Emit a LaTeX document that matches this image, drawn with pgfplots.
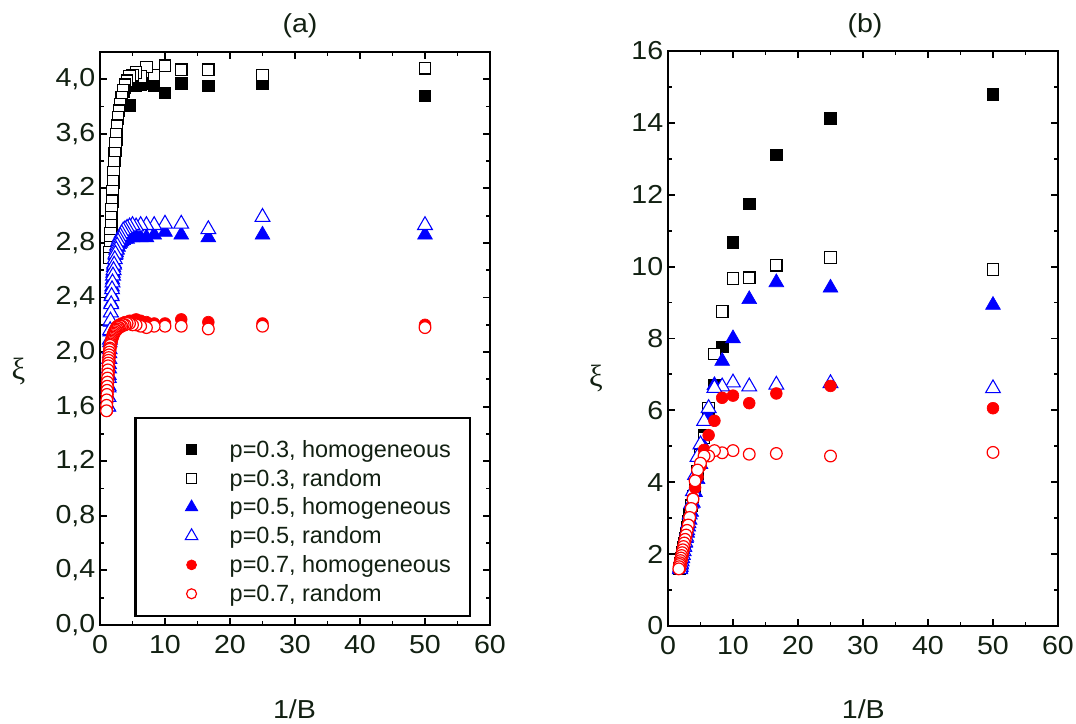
\documentclass[border=0pt]{standalone}
\usepackage{pgfplots}
\pgfplotsset{compat=1.18}
\usepackage{fontspec}
\setmainfont{Liberation Sans}
\newfontfamily\widesans{Liberation Sans}[FakeStretch=1.1]
\newfontfamily\xifont{Liberation Serif}
\newcommand\tickfont{\widesans\fontsize{19.5}{22}\selectfont}
\newcommand\legfont{\fontsize{17.6}{20}\selectfont}
\definecolor{txt}{RGB}{18,32,18}

\pgfplotsset{
  panel/.style={
    scale only axis, width=292.5pt,
    xmin=0, xmax=60, xtick={0,10,...,60}, minor x tick num=1,
    tick align=inside,
    major tick length=5.25pt, minor tick length=3pt,
    every tick/.style={black, line width=1.4pt},
    axis line style={line width=1.7pt},
    /pgf/number format/assume math mode=true,
    tick label style={font=\tickfont, text=txt},
    xticklabel style={yshift=-4pt},
    clip=false,
  },
  sqF/.style={only marks, mark=square*, mark size=4.3pt, black, mark options={fill=black, line width=0.6pt}},
  sqO/.style={only marks, mark=square*, mark size=4.3pt, black, mark options={fill=white, line width=0.9pt}},
  trF/.style={only marks, mark=triangle*, mark size=6.4pt, blue, mark options={fill=blue, line width=0.5pt}},
  trO/.style={only marks, mark=triangle*, mark size=6.4pt, blue, mark options={fill=white, line width=0.8pt}},
  ciF/.style={only marks, mark=*, mark size=4.4pt, red, mark options={fill=red, line width=0.5pt}},
  ciO/.style={only marks, mark=*, mark size=4.4pt, red, mark options={fill=white, line width=0.9pt}},
}

\begin{document}
\begin{tikzpicture}
\useasboundingbox (0pt,0pt) rectangle (807pt,543pt);

% ---- (a)
\begin{axis}[panel,
    at={(75pt,74.25pt)}, anchor=south west, height=429.75pt,
    ymin=0, ymax=4.2, ytick={0,0.4,...,4.0}, minor y tick num=1,
    yticklabel style={/pgf/number format/.cd, fixed, fixed zerofill, precision=1, use comma},
    legend cell align=left,
    legend style={at={(0.9513,0.014)}, anchor=south east, draw=black, line width=1.7pt,
        inner xsep=14.25pt, inner ysep=9.1pt, column sep=0pt, row sep=0pt,
        font=\legfont, text=txt,
        cells={anchor=base west},
        nodes={inner sep=0pt, text height=20pt, text depth=1.65pt}},
    legend image code/.code={
        \path (0pt,0pt) (54.75pt,0pt);
        \draw[#1, every mark/.append style={scale=0.85}] plot coordinates {(27pt,5.8pt)};},
]
\addplot[sqF] coordinates {
(50,3.88)(25,3.97)(16.667,3.95)(12.5,3.97)(10,3.90)(8.333,3.95)(7.143,3.97)(6.25,3.96)(5.556,3.95)(5,3.97)
(4.545,3.81)(4.167,3.96)(3.846,3.94)(3.571,3.91)(3.333,3.87)(3.125,3.82)(2.941,3.77)(2.778,3.71)(2.632,3.64)(2.5,3.56)
(2.381,3.48)(2.273,3.40)(2.174,3.32)(2.083,3.24)(2,3.17)(1.923,3.10)(1.852,3.03)(1.786,2.97)(1.724,2.91)(1.667,2.86)};
\addlegendentry{p=0.3, homogeneous}
\addplot[sqO] coordinates {
(50,4.08)(25,4.03)(16.667,4.07)(12.5,4.07)(10,4.10)(8.333,4.03)(7.143,4.09)(6.25,4.02)(5.556,4.05)(5,4.03)
(4.545,4.02)(4.167,3.99)(3.846,3.96)(3.571,3.92)(3.333,3.87)(3.125,3.82)(2.941,3.77)(2.778,3.72)(2.632,3.66)(2.5,3.60)
(2.381,3.53)(2.273,3.46)(2.174,3.39)(2.083,3.32)(2,3.25)(1.923,3.18)(1.852,3.11)(1.786,3.05)(1.724,2.99)(1.667,2.93)
(1.613,2.87)(1.5625,2.82)(1.515,2.77)(1.471,2.73)(1.429,2.69)};
\addlegendentry{p=0.3, random}
\addplot[trF] coordinates {
(50,2.86)(25,2.86)(16.667,2.84)(12.5,2.86)(10,2.88)(8.333,2.86)(7.143,2.84)(6.25,2.84)(5.556,2.85)(5,2.84)
(4.545,2.84)(4.167,2.83)(3.846,2.83)(3.571,2.82)(3.333,2.81)(3.125,2.80)(2.941,2.79)(2.778,2.77)(2.632,2.75)(2.5,2.73)
(2.381,2.71)(2.273,2.68)(2.174,2.65)(2.083,2.62)(2,2.58)(1.923,2.53)(1.852,2.48)(1.786,2.42)(1.724,2.36)(1.667,2.29)
(1.613,2.22)(1.5625,2.15)(1.515,2.07)(1.471,1.99)(1.429,1.91)(1.389,1.83)(1.351,1.75)(1.316,1.67)(1.282,1.60)};
\addlegendentry{p=0.5, homogeneous}
\addplot[trO] coordinates {
(50,2.93)(25,2.99)(16.667,2.90)(12.5,2.94)(10,2.94)(8.333,2.93)(7.143,2.93)(6.25,2.93)(5.556,2.92)(5,2.93)
(4.545,2.92)(4.167,2.91)(3.846,2.90)(3.571,2.89)(3.333,2.87)(3.125,2.85)(2.941,2.83)(2.778,2.81)(2.632,2.78)(2.5,2.75)
(2.381,2.72)(2.273,2.68)(2.174,2.64)(2.083,2.60)(2,2.56)(1.923,2.51)(1.852,2.46)(1.786,2.41)(1.724,2.35)(1.667,2.29)
(1.613,2.23)(1.5625,2.16)(1.515,2.09)(1.471,2.02)(1.429,1.95)(1.389,1.88)(1.351,1.81)(1.316,1.74)(1.282,1.67)(1.25,1.60)};
\addlegendentry{p=0.5, random}
\addplot[ciF] coordinates {
(50,2.20)(25,2.21)(16.667,2.22)(12.5,2.24)(10,2.21)(8.333,2.21)(7.143,2.22)(6.25,2.23)(5.556,2.24)(5,2.23)
(4.545,2.23)(4.167,2.22)(3.846,2.22)(3.571,2.21)(3.333,2.21)(3.125,2.20)(2.941,2.20)(2.778,2.19)(2.632,2.19)(2.5,2.18)
(2.381,2.17)(2.273,2.16)(2.174,2.15)(2.083,2.14)(2,2.13)(1.923,2.12)(1.852,2.10)(1.786,2.09)(1.724,2.07)(1.667,2.05)
(1.613,2.03)(1.5625,2.01)(1.515,1.99)(1.471,1.96)(1.429,1.93)(1.389,1.90)(1.351,1.87)(1.316,1.84)(1.282,1.81)(1.25,1.78)
(1.22,1.75)(1.19,1.72)(1.163,1.69)(1.136,1.66)(1.111,1.63)(1.087,1.60)(1.064,1.57)};
\addlegendentry{p=0.7, homogeneous}
\addplot[ciO] coordinates {
(50,2.18)(25,2.19)(16.667,2.17)(12.5,2.19)(10,2.19)(8.333,2.19)(7.143,2.18)(6.25,2.19)(5.556,2.20)(5,2.20)
(4.545,2.21)(4.167,2.21)(3.846,2.20)(3.571,2.20)(3.333,2.19)(3.125,2.19)(2.941,2.18)(2.778,2.18)(2.632,2.17)(2.5,2.16)
(2.381,2.16)(2.273,2.15)(2.174,2.14)(2.083,2.13)(2,2.12)(1.923,2.11)(1.852,2.10)(1.786,2.09)(1.724,2.08)(1.667,2.07)
(1.613,2.06)(1.5625,2.05)(1.515,2.03)(1.471,2.02)(1.429,2.00)(1.389,1.98)(1.351,1.96)(1.316,1.94)(1.282,1.92)(1.25,1.90)
(1.22,1.87)(1.19,1.84)(1.163,1.81)(1.136,1.78)(1.111,1.75)(1.087,1.72)(1.064,1.69)(1.042,1.65)(1.02,1.61)(1.0,1.57)};
\addlegendentry{p=0.7, random}
\end{axis}

% ---- (b)
\begin{axis}[panel,
    at={(501pt,73.5pt)}, anchor=south west, height=431.25pt,
    ymin=0, ymax=16, ytick={0,2,...,16}, minor y tick num=1,
]
\addplot[sqF] coordinates {
(50,14.79)(25,14.13)(16.667,13.11)(12.5,11.74)(10,10.68)(8.333,7.77)(7.143,6.70)(6.25,5.95)(5.556,5.31)(5,4.72)
(4.545,4.25)(4.167,3.88)(3.846,3.62)(3.571,3.36)(3.333,3.12)(3.125,2.92)(2.941,2.74)(2.778,2.58)(2.632,2.44)(2.5,2.31)
(2.381,2.19)(2.273,2.08)(2.174,1.99)(2.083,1.90)(2,1.82)(1.923,1.75)(1.852,1.68)(1.786,1.62)};
\addplot[sqO] coordinates {
(50,9.92)(25,10.25)(16.667,10.04)(12.5,9.69)(10,9.67)(8.333,8.75)(7.143,7.57)(6.25,6.06)(5.556,5.23)(5,4.75)
(4.545,4.30)(4.167,3.92)(3.846,3.60)(3.571,3.34)(3.333,3.10)(3.125,2.90)(2.941,2.72)(2.778,2.56)(2.632,2.42)(2.5,2.29)
(2.381,2.17)(2.273,2.06)(2.174,1.97)(2.083,1.88)(2,1.80)(1.923,1.73)(1.852,1.66)(1.786,1.60)};
\addplot[trF] coordinates {
(50,8.93)(25,9.41)(16.667,9.56)(12.5,9.09)(10,8.00)(8.333,7.37)(7.143,6.70)(6.25,5.85)(5.556,4.98)(5,4.50)
(4.545,4.08)(4.167,3.72)(3.846,3.42)(3.571,3.17)(3.333,2.95)(3.125,2.76)(2.941,2.59)(2.778,2.44)(2.632,2.31)(2.5,2.19)
(2.381,2.08)(2.273,1.98)(2.174,1.89)(2.083,1.81)(2,1.73)(1.923,1.66)(1.852,1.60)};
\addplot[trO] coordinates {
(50,6.61)(25,6.75)(16.667,6.71)(12.5,6.66)(10,6.77)(8.333,6.66)(7.143,6.62)(6.25,6.06)(5.556,5.70)(5,5.05)
(4.545,4.70)(4.167,4.20)(3.846,3.75)(3.571,3.40)(3.333,3.10)(3.125,2.86)(2.941,2.66)(2.778,2.48)(2.632,2.33)(2.5,2.20)
(2.381,2.08)(2.273,1.97)(2.174,1.88)(2.083,1.79)(2,1.71)(1.923,1.64)(1.852,1.58)};
\addplot[ciF] coordinates {
(50,6.06)(25,6.68)(16.667,6.47)(12.5,6.20)(10,6.41)(8.333,6.35)(7.143,5.71)(6.25,5.31)(5.556,4.90)(5,4.45)
(4.545,4.15)(4.167,3.85)(3.846,3.55)(3.571,3.28)(3.333,3.04)(3.125,2.84)(2.941,2.66)(2.778,2.50)(2.632,2.36)(2.5,2.23)
(2.381,2.11)(2.273,2.01)(2.174,1.91)(2.083,1.82)(2,1.74)(1.923,1.67)(1.852,1.60)};
\addplot[ciO] coordinates {
(50,4.83)(25,4.73)(16.667,4.80)(12.5,4.78)(10,4.88)(8.333,4.82)(7.143,4.88)(6.25,4.73)(5.556,4.73)(5,4.53)
(4.545,4.34)(4.167,4.04)(3.846,3.53)(3.571,3.27)(3.333,3.02)(3.125,2.81)(2.941,2.66)(2.778,2.53)(2.632,2.41)(2.5,2.31)
(2.381,2.21)(2.273,2.12)(2.174,2.04)(2.083,1.96)(2,1.89)(1.923,1.82)(1.852,1.76)(1.786,1.71)(1.724,1.65)(1.667,1.59)};
\end{axis}

% titles and axis labels
\node[font=\tickfont, text=txt] at (225pt,523.5pt) {(a)};
\node[font=\tickfont, text=txt] at (648.75pt,523.5pt) {(b)};
\node[font=\tickfont, text=txt, inner sep=0pt, anchor=base] at (220.9pt,4pt) {1/B};
\node[font=\tickfont, text=txt, inner sep=0pt, anchor=base] at (647.5pt,4pt) {1/B};
\node[font=\xifont\fontsize{23}{26}\selectfont, text=txt] at (13.9pt,264pt) {ξ};
\node[font=\xifont\fontsize{23}{26}\selectfont, text=txt] at (447pt,258.75pt) {ξ};
\end{tikzpicture}
\end{document}
